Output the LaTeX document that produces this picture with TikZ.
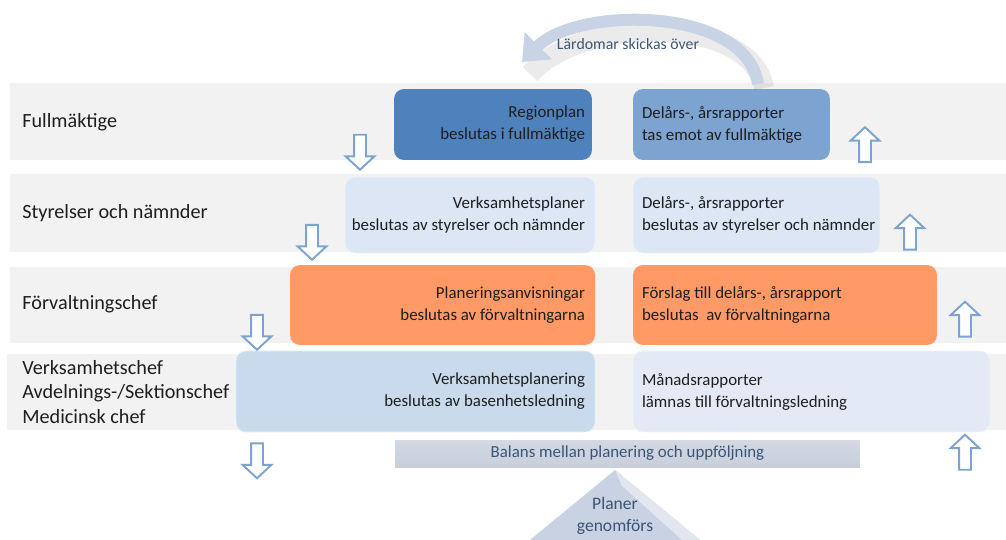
\documentclass[tikz,border=0pt]{standalone}
\usepackage{fontspec}
\setmainfont{Carlito}
\usetikzlibrary{shapes.arrows,arrows.meta,positioning}
\definecolor{bandgray}{HTML}{F2F2F2}
\definecolor{textdark}{HTML}{1E1E1E}
\definecolor{regionblue}{HTML}{4F81BD}
\definecolor{reportblue}{HTML}{7DA3D1}
\definecolor{paleblue}{HTML}{DCE6F5}
\definecolor{orangebox}{HTML}{FF9A66}
\definecolor{steelblue}{HTML}{C9DAEC}
\definecolor{mistblue}{HTML}{E3EAF5}
\definecolor{arrowblue}{HTML}{7CA3D1}
\definecolor{barblue}{HTML}{C8CFDB}
\definecolor{bartext}{HTML}{3B5576}
\definecolor{trifill}{HTML}{C8D2E2}
\definecolor{curveblue}{HTML}{C8D3E6}

\begin{document}
\begin{tikzpicture}[x=0.02cm,y=-0.02cm,>=Stealth,
                    font=\fontsize{9.6}{12.5}\selectfont]
  \tikzstyle{band}=[fill=bandgray]
  \tikzstyle{level}=[anchor=west, inner sep=0pt, align=left, text=textdark,
    font=\fontsize{11.5}{13.7}\selectfont]
  \tikzstyle{box}=[rectangle, rounded corners=0.2cm, inner sep=0pt]
  \tikzstyle{plantext}=[inner sep=0pt, align=right, text=textdark]
  \tikzstyle{reptext}=[inner sep=0pt, align=left, text=textdark]
  \tikzstyle{arrowbase}=[single arrow, draw=arrowblue, line width=1.1pt,
    fill=white, inner sep=0.1cm, minimum height=0.7cm,
    single arrow head extend=0.17cm, single arrow tip angle=94]
  \tikzstyle{down}=[arrowbase, shape border rotate=270]
  \tikzstyle{up}=[arrowbase, shape border rotate=90]
  \useasboundingbox (0,0) rectangle (1006,540);

  % level bands
  \fill[band] (10,83) rectangle (1006,160);
  \fill[band] (10,174) rectangle (1006,252);
  \fill[band] (10,267) rectangle (1006,343);
  \fill[band] (7,354) rectangle (1006,430);

  \node[level] (fm)   at (22,122) {Fullmäktige};
  \node[level] (sn)   at (22,213) {Styrelser och nämnder};
  \node[level] (fc)   at (22,304) {Förvaltningschef};
  \node[level] (vc)   at (22,392) {Verksamhetschef\\Avdelnings-/Sektionschef\\Medicinsk chef};

  % planning side
  \node[box, fill=regionblue, minimum width=3.96cm, minimum height=1.42cm] (plan1) at (493,124.5) {};
  \node[box, fill=paleblue, draw=white!50!paleblue, minimum width=5cm, minimum height=1.52cm] (plan2) at (470,215) {};
  \node[box, fill=orangebox, minimum width=6.1cm, minimum height=1.6cm] (plan3) at (442.5,305) {};
  \node[box, fill=steelblue, draw=white!50!steelblue, minimum width=7.18cm, minimum height=1.62cm] (plan4) at (415.5,391.5) {};
  \node[plantext, left=0.14cm of plan1.east] (plan1t) {Regionplan\\beslutas i fullmäktige};
  \node[plantext, left=0.2cm of plan2.east] (plan2t) {Verksamhetsplaner\\beslutas av styrelser och nämnder};
  \node[plantext, left=0.2cm of plan3.east] (plan3t) {Planeringsanvisningar\\beslutas av förvaltningarna};
  \node[plantext, left=0.2cm of plan4.east] (plan4t) {Verksamhetsplanering\\beslutas av basenhetsledning};

  % report side
  \node[box, fill=reportblue, minimum width=3.94cm, minimum height=1.42cm] (rep1) at (731.5,124.5) {};
  \node[box, fill=paleblue, draw=white!50!paleblue, minimum width=4.94cm, minimum height=1.52cm] (rep2) at (756.5,215) {};
  \node[box, fill=orangebox, minimum width=6.08cm, minimum height=1.6cm] (rep3) at (785,305) {};
  \node[box, fill=mistblue, draw=white!50!mistblue, minimum width=7.14cm, minimum height=1.62cm] (rep4) at (811.5,391.5) {};
  \node[reptext, right=0.18cm of rep1.west] (rep1t) {Delårs-, årsrapporter\\tas emot av fullmäktige};
  \node[reptext, right=0.18cm of rep2.west] (rep2t) {Delårs-, årsrapporter\\beslutas av styrelser och nämnder};
  \node[reptext, right=0.18cm of rep3.west] (rep3t) {Förslag till delårs-, årsrapport\\beslutas\ \ av förvaltningarna};
  \node[reptext, right=0.18cm of rep4.west] (rep4t) {Månadsrapporter\\lämnas till förvaltningsledning};

  % block arrows
  \node[down] (d1) at (360,149.5) {};
  \node[down] (d2) at (312,239.5) {};
  \node[down] (d3) at (257,329.5) {};
  \node[down] (d4) at (257,458) {};
  \node[up]   (u1) at (865,147.5) {};
  \node[up]   (u2) at (910,235) {};
  \node[up]   (u3) at (965,322) {};
  \node[up]   (u4) at (965,455) {};

  % balance
  \node[rectangle, top color=barblue!80!white, bottom color=barblue, text=bartext,
        minimum width=9.3cm, minimum height=0.54cm, inner sep=0pt]
    (balans) at (627.5,453.5) {Balans mellan planering och uppföljning};
  \fill[trifill] (615,470) -- (700,540) -- (530,540) -- cycle;
  \fill[trifill!55!white] (615,470) -- (700,540) -- (682,540) -- (622,486) -- cycle;
  \node[align=center, text=bartext, font=\fontsize{10}{12.5}\selectfont]
    (genom) at (615,516) {Planer\\genomförs};

  % lessons learned
  \coordinate (lfrom) at (758,84);
  \coordinate (lto) at (522,62);
  \draw[black, opacity=0.08, line width=0.4cm]
    (lfrom) ++(6,4) .. controls (752,16) and (584,14) .. (530,74);
  \draw[curveblue, line width=0.24cm, -{Triangle[width=0.74cm,length=0.46cm]}]
    (lfrom) .. controls (746,6) and (578,6) .. (lto);
  \node[text=bartext, font=\fontsize{9}{11}\selectfont] (lard) at (628,44) {Lärdomar skickas över};
\end{tikzpicture}
\end{document}
